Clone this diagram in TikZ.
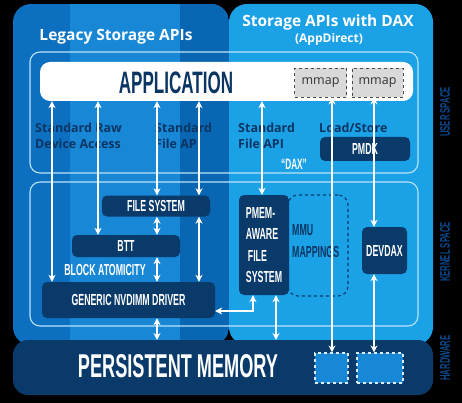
\documentclass[tikz,border=0pt]{standalone}
\usepackage{fontspec}
\setmainfont{Open Sans}
\newfontfamily\condfont[FakeStretch=0.55]{Liberation Sans}
\usetikzlibrary{arrows.meta}
\definecolor{legacyA}{HTML}{0C6FBF}
\definecolor{legacyB}{HTML}{1787D6}
\definecolor{legacyC}{HTML}{0966B2}
\definecolor{daxblue}{HTML}{1BA1E6}
\definecolor{navy}{HTML}{0A3A6A}
\definecolor{navytext}{HTML}{0B3563}
\definecolor{sidetext}{HTML}{0D4A8C}
\definecolor{mmapgray}{HTML}{D9D9D9}

\begin{document}
\begin{tikzpicture}[x=1pt,y=1pt,
            darkbox/.style={fill=navy,rounded corners=5pt,text=white,
              font=\condfont\bfseries\fontsize{16}{21.5}\selectfont},
            mmapbox/.style={fill=mmapgray,draw=black!70,dashed,line width=0.9pt,
              minimum width=51pt,minimum height=29pt,text=black!80,
              font=\fontsize{12.5}{14}\selectfont},
            hwbox/.style={fill=legacyB,draw=white!85!legacyB,dashed,line width=1.2pt,
              minimum height=30pt},
            outline/.style={draw=white!70!daxblue,line width=1.1pt,rounded corners=10pt},
            dbl/.style={white,line width=1.6pt,{Stealth[length=7pt,width=7pt]}-{Stealth[length=7pt,width=7pt]}},
            apitext/.style={text=navytext,align=left,font=\bfseries\fontsize{12.5}{16}\selectfont},
            sidelabel/.style={rotate=90,text=sidetext,font=\condfont\bfseries\fontsize{14}{14}\selectfont}]
            \tikzstyle{every node}+=[inner sep=0pt]
            \fill [black] (0,0) rectangle (462,-403);
            \useasboundingbox (0,0) rectangle (462,-403);
            \begin{scope}
            \clip [rounded corners=18pt] (13,-4) rectangle (229,-345);
            \fill [legacyA] (13,-4) rectangle (229,-345);
            \fill [legacyB] (70,-4) rectangle (180,-345);
            \fill [legacyC] (180,-4) rectangle (229,-345);
            \end{scope}
            \fill [daxblue,rounded corners=18pt] (229,-4) rectangle (433,-345);
            \draw [outline] (30,-52) rectangle (418,-173);
            \draw [outline] (30,-182) rectangle (418,-326);
            \fill [navy,rounded corners=15pt] (13,-340) rectangle (433,-395);
            \node [fill=white,rounded corners=10pt,minimum width=373pt,minimum height=39pt] (app) at (226.5,-81.5) {};
            \node [text=navytext,font=\condfont\bfseries\fontsize{31}{31}\selectfont] (apptxt) at (176,-83) {APPLICATION};
            \node [mmapbox,minimum width=52pt] (mmapa) at (320.5,-82.5) {mmap};
            \node [mmapbox] (mmapb) at (377.5,-82.5) {mmap};
            \node [text=white,font=\bfseries\fontsize{15.5}{18}\selectfont] (legacy) at (116,-37) {Legacy Storage APIs};
            \node [text=white,font=\bfseries\fontsize{15.5}{18}\selectfont] (daxtitle) at (328,-22) {Storage APIs with DAX};
            \node [text=white,font=\bfseries\fontsize{12}{14}\selectfont] (appdirect) at (329,-39) {(AppDirect)};
            \node [apitext,anchor=west] (rawapi) at (35,-136) {Standard Raw\\Device Access};
            \node [apitext,anchor=west] (fileapi) at (155,-136) {Standard\\File API};
            \node [apitext,anchor=west] (daxapi) at (238,-136) {Standard\\File API};
            \node [apitext,anchor=west] (loadstore) at (319,-128) {Load/Store};
            \node [darkbox,minimum width=90pt,minimum height=24pt] (pmdk) at (365,-149) {PMDK};
            \node [text=white,font=\condfont\bfseries\fontsize{15}{15}\selectfont] (daxq) at (294,-164) {“DAX”};
            \node [darkbox,minimum width=108pt,minimum height=21pt] (fs) at (156,-206) {FILE SYSTEM};
            \node [darkbox,minimum width=108pt,minimum height=22pt] (btt) at (126,-246) {BTT};
            \node [text=white,font=\condfont\bfseries\fontsize{16}{16}\selectfont] (atomic) at (105,-270) {BLOCK ATOMICITY};
            \node [darkbox,minimum width=173pt,minimum height=36pt] (drv) at (128.5,-300) {GENERIC NVDIMM DRIVER};
            \node [draw=navy,dashed,line width=1.1pt,rounded corners=10pt,minimum width=60pt,minimum height=101pt] (mmu) at (318,-245.5) {};
            \node [text=navytext,align=left,anchor=west,font=\condfont\bfseries\fontsize{16}{21.5}\selectfont] (mmutxt) at (292,-241) {MMU\\MAPPINGS};
            \node [darkbox,align=left,minimum width=50pt,minimum height=100pt] (pmem) at (264,-245) {PMEM-\\AWARE\\\hspace{2pt}FILE\\SYSTEM};
            \node [darkbox,minimum width=45pt,minimum height=47pt] (devdax) at (384.5,-250.5) {DEVDAX};
            \node [text=white,font=\condfont\bfseries\fontsize{33}{33}\selectfont] (pm) at (178,-366) {PERSISTENT MEMORY};
            \node [hwbox,minimum width=33pt] (hwa) at (331.5,-368) {};
            \node [hwbox,minimum width=46pt] (hwb) at (380,-368) {};
            \coordinate (band) at (0,-340);
            \coordinate (colA) at (52,0);
            \coordinate (colB) at (98,0);
            \coordinate (colC) at (157,0);
            \coordinate (colD) at (199,0);
            \coordinate (colE) at (262,0);
            \coordinate (colF) at (332,0);
            \coordinate (colG) at (374,0);
            \coordinate (colH) at (253,0);
            \coordinate (colI) at (276,0);
            \coordinate (rowA) at (0,-311);
            \draw [dbl] (app.south -| colA) -- (drv.north -| colA);
            \draw [dbl] (app.south -| colB) -- (btt.north -| colB);
            \draw [dbl] (app.south -| colC) -- (fs.north -| colC);
            \draw [dbl] (app.south -| colD) -- (fs.north -| colD);
            \draw [dbl] (fs.south -| colC) -- (btt.north -| colC);
            \draw [dbl] (btt.south -| colC) -- (drv.north -| colC);
            \draw [dbl] (fs.south -| colD) -- (drv.north -| colD);
            \draw [dbl] (drv.south -| colC) -- (band -| colC);
            \draw [dbl] (app.south -| colE) -- (pmem.north -| colE);
            \draw [dbl] (mmapa.south -| colF) -- (hwa.north -| colF);
            \draw [dbl] (mmapb.south -| colG) -- (devdax.north -| colG);
            \draw [dbl] (devdax.south -| colG) -- (hwb.north -| colG);
            \draw [dbl] (pmem.south -| colI) -- (band -| colI);
            \draw [dbl] (pmem.south -| colH) |- (drv.east |- rowA);
            \node [sidelabel] (userlbl) at (445,-112) {USER SPACE};
            \node [sidelabel] (kernellbl) at (445,-252) {KERNEL SPACE};
            \node [sidelabel] (hwlbl) at (445,-358) {HARDWARE};
          \end{tikzpicture}
\end{document}
